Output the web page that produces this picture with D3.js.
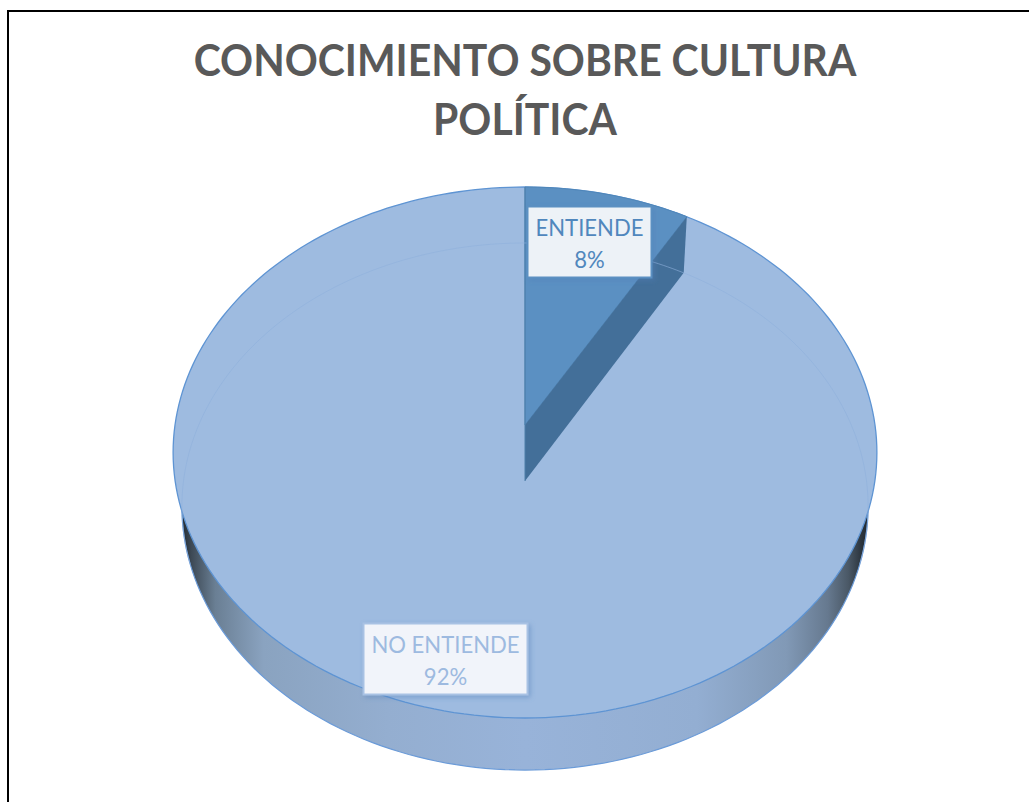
<!DOCTYPE html>
<html><head><meta charset="utf-8">
<script src="https://cdn.jsdelivr.net/npm/d3@7/dist/d3.min.js"></script>
<style>html,body{margin:0;padding:0;background:#fff}svg{display:block}</style>
</head><body><svg id="c" width="1029" height="802"></svg>
<script>
const categories = ["ENTIENDE", "NO ENTIENDE"];
const values = [8.4, 91.6];
const titleLines = ["CONOCIMIENTO SOBRE CULTURA", "POLÍTICA"];

const svg = d3.select("#c");
const FONT = "Lato, 'Open Sans', sans-serif";
const total = d3.sum(values);
const pct = d3.format(".0%");
const slices = d3.pie().sort(null).value(d => d)(values);

// perspective projection of the pie's top and lower discs
function disc(cx, cy, k, b, c) {
  return (angle, r = 1) => {
    const u = r * Math.sin(angle), v = r * Math.cos(angle), w = 1 + c * v;
    return [cx + k * u / w, (cy + b * v) / w];
  };
}
const topDisc = disc(525, 425, 350, -218.6, 0.1036);
const lowDisc = disc(525, 481, 341.5, -214.5, 0.0968);
const line = d3.line();
const ring = (p, a0, a1, n = 240) => d3.range(n + 1).map(i => p(a0 + (a1 - a0) * i / n));
const TAU = Math.PI * 2;
// narrow Lato's glyphs to the set width of the reference's face
const squeeze = (sel, f) => sel.each(function () {
  d3.select(this).attr("lengthAdjust", "spacingAndGlyphs").attr("textLength", this.getComputedTextLength() * f);
});

const defs = svg.append("defs");
const wallGrad = defs.append("linearGradient").attr("id", "wall")
  .attr("gradientUnits", "userSpaceOnUse").attr("x1", 181).attr("x2", 869).attr("y1", 0).attr("y2", 0);
[[0, "#20282f"], [0.015, "#3d4955"], [0.05, "#6a7f94"], [0.12, "#8aa3c0"], [0.3, "#94aed0"], [0.5, "#98b3d9"],
 [0.75, "#93aed2"], [0.88, "#8199b6"], [0.94, "#66798f"], [0.97, "#4a5866"], [0.99, "#2a333c"], [1, "#20282f"]]
  .forEach(([o, col]) => wallGrad.append("stop").attr("offset", o).attr("stop-color", col));
const blur = defs.append("filter").attr("id", "sh").attr("x", "-10%").attr("y", "-15%").attr("width", "120%").attr("height", "135%");
blur.append("feDropShadow").attr("dx", 2).attr("dy", 2).attr("stdDeviation", 2.5)
  .attr("flood-color", "#4f7fb8").attr("flood-opacity", 0.45);

// frame
svg.append("path").attr("d", "M1029,11H8V802").attr("fill", "none").attr("stroke", "#000").attr("stroke-width", 2);

// title
svg.append("g").selectAll("text").data(titleLines).join("text")
  .attr("x", 525).attr("y", (d, i) => 76 + i * 59)
  .attr("text-anchor", "middle").attr("font-family", FONT).attr("font-weight", 700)
  .attr("font-size", 44).attr("fill", "#595959").text(d => d)
  .call(squeeze, 0.93);

// side wall, top surface
svg.append("path").attr("d", line(ring(lowDisc, 0, TAU)) + "Z").attr("fill", "url(#wall)")
  .attr("stroke", "#6b9bd8").attr("stroke-width", 1.2);
svg.append("path").attr("d", line(ring(topDisc, 0, TAU)) + "Z").attr("fill", "#9ebbe0")
  .attr("stroke", "#5e94d3").attr("stroke-width", 1.3);

// the small slice, sunk in the surface
const s = slices[0];
svg.append("path").attr("d", line([topDisc(0, 0), ...ring(topDisc, s.startAngle, s.endAngle, 40)]) + "Z")
  .attr("fill", "#5b90c2").attr("stroke", "#4f86b8").attr("stroke-width", 1);
svg.append("path").attr("d", line([topDisc(s.endAngle), topDisc(0, 0), lowDisc(0, 0), lowDisc(s.endAngle)]) + "Z")
  .attr("fill", "#436f99");
svg.append("path").attr("d", line([topDisc(0), topDisc(0, 0), lowDisc(0, 0)])).attr("fill", "none")
  .attr("stroke", "#4f7ea9").attr("stroke-width", 1);

// lower rim seen through
svg.append("path").attr("d", line(ring(lowDisc, -Math.PI * 0.6, Math.PI * 0.6))).attr("fill", "none")
  .attr("stroke", "#8fb0dc").attr("stroke-width", 1).attr("opacity", 0.6);

// labels
const boxes = [
  {x: 527.5, y: 206.5, w: 124, h: 71, fill: "#edf2f7", stroke: "#5b90c2", text: "#5087bd", sw: 2},
  {x: 363.5, y: 623.5, w: 164, h: 71, fill: "#f1f4fa", stroke: "#a8c2e4", text: "#9dbae0", sw: 2}
];
boxes.forEach((b, i) => {
  const g = svg.append("g");
  g.append("rect").attr("x", b.x).attr("y", b.y).attr("width", b.w).attr("height", b.h)
    .attr("fill", b.fill).attr("stroke", b.stroke).attr("stroke-width", b.sw).attr("filter", "url(#sh)");
  [categories[i], pct(values[i] / total)].forEach((t, j) => {
    g.append("text").attr("x", b.x + b.w / 2).attr("y", b.y + 29 + j * 32)
      .attr("text-anchor", "middle").attr("font-family", FONT).attr("font-size", 23)
      .attr("fill", b.text).text(t).call(squeeze, 0.96);
  });
});
</script></body></html>
